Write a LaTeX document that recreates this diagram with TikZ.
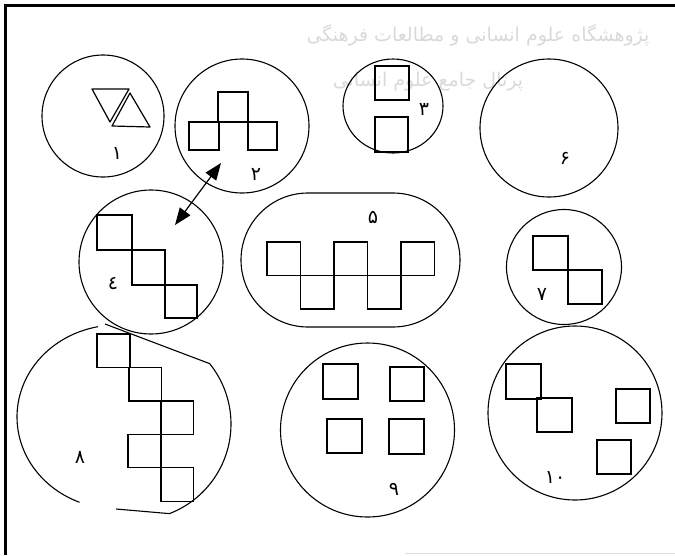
\documentclass[tikz,border=0pt]{standalone}
\usepackage{fontspec}
\usetikzlibrary{arrows.meta,shapes.geometric}
\newfontfamily\arabicfont[Script=Arabic]{DejaVu Sans}
\TeXXeTstate=1
\begin{document}
\begin{tikzpicture}[x=1pt,y=-1pt,
  ln/.style={line width=1.2pt},
  ring/.style={draw,circle,line width=1.1pt,inner sep=0pt},
  oval/.style={draw,ellipse,line width=1.1pt,inner sep=0pt},
  lbl/.style={font=\arabicfont\fontsize{19}{19}\selectfont,inner sep=0pt},
  wm/.style={text=black!15,inner sep=0pt}]
\useasboundingbox (0,0) rectangle (675,555);
% watermark
\node[wm,font=\arabicfont\fontsize{19}{19}\selectfont] (w1) at (478,35) {\beginR پژوهشگاه علوم انسانی و مطالعات فرهنگی\endR};
\node[wm,font=\arabicfont\fontsize{19}{19}\selectfont] (w2) at (428,82) {\beginR پرتال جامع علوم انسانی\endR};
% frame
\draw[line width=3pt] (5.5,555) -- (5.5,5) -- (675,5);
\draw[black!12,line width=0.8pt] (405,553) -- (675,553);
% circle 1
\node[ring,minimum size=122pt] (c1) at (103,116) {};
\draw[ln,line join=round] (92,89) -- (129,89) -- (110,122) -- cycle;
\draw[ln,line join=round] (130,93) -- (150,127) -- (112,126) -- cycle;
\node[lbl] (l1) at (117,153) {۱};
% circle 2
\node[ring,minimum size=134pt] (c2) at (242,126) {};
\draw[ln] (218,92) rectangle ++(30,30);
\draw[ln] (189,122) rectangle ++(30,28);
\draw[ln] (248,122) rectangle ++(29,28);
\node[lbl] (l2) at (256,174) {۲};
% circle 3
\node[oval,minimum width=100pt,minimum height=94pt] (c3) at (393,106) {};
\draw[ln] (375,66) rectangle ++(34,34);
\draw[ln] (375,117) rectangle ++(33,35);
\node[lbl] (l3) at (424,109) {۳};
% circle 6
\node[ring,minimum size=138pt] (c6) at (549,128) {};
\node[lbl] (l6) at (565,158) {۶};
% circle 4
\node[ring,minimum size=144pt] (c4) at (151,262) {};
\draw[ln] (97,215) rectangle ++(35,35);
\draw[ln] (132,250) rectangle ++(33,35);
\draw[ln] (165,285) rectangle ++(32,33);
\node[lbl] (l4) at (113,284) {٤};
% arrow between 2 and 4
\coordinate (a2) at (221,163);
\coordinate (a4) at (175,225);
\draw[line width=1.2pt,{Triangle[length=17pt,width=13pt]}-{Triangle[length=17pt,width=13pt]}] (a2) -- (a4);
% stadium 5
\node[draw,line width=1.1pt,rounded corners=67pt,minimum width=219pt,minimum height=134pt,inner sep=0pt] (c5) at (350.5,260) {};
\foreach \x in {267,334,401} \draw[ln] (\x,242) rectangle ++(33.5,33.5);
\foreach \x in {300.5,367.5} \draw[ln] (\x,275.5) rectangle ++(33.5,33.5);
\node[lbl] (l5) at (373,217) {۵};
% circle 7
\node[ring,minimum size=115pt] (c7) at (564,267) {};
\draw[ln] (533,236) rectangle ++(35,34);
\draw[ln] (568,270) rectangle ++(34,34);
\node[lbl] (l7) at (542,294) {۷};
% shape 8
\draw[line width=1.1pt] plot[domain=112:259,samples=60] ({117+100*cos(\x)},{417+92*sin(\x)});
\draw[line width=1.1pt] (105,324) -- (209.6,363.6) -- plot[domain=-39:69,samples=50] ({135+96*cos(\x)},{424+96*sin(\x)}) -- (116,509);
\draw[ln] (97,334) rectangle ++(33,33.5);
\draw[ln] (129,367.5) rectangle ++(32.5,33.5);
\draw[ln] (161,401) rectangle ++(32.5,33.5);
\draw[ln] (128,434.5) rectangle ++(33,33);
\draw[ln] (161,467.5) rectangle ++(32.5,34);
\node[lbl] (l8) at (80,457) {۸};
% circle 9
\node[ring,minimum size=174pt] (c9) at (367.5,430) {};
\draw[ln] (323,364) rectangle ++(35,35);
\draw[ln] (390,367) rectangle ++(34,34);
\draw[ln] (327,419) rectangle ++(35,34);
\draw[ln] (389,419) rectangle ++(35,35);
\node[lbl] (l9) at (394,489) {۹};
% circle 10
\node[ring,minimum size=174pt] (c10) at (575,413) {};
\draw[ln] (506,364) rectangle ++(35,35);
\draw[ln] (537,398) rectangle ++(35,34);
\draw[ln] (616,389) rectangle ++(34,34);
\draw[ln] (597,440) rectangle ++(34,34);
\node[lbl] (l10) at (555,477) {۱۰};
\end{tikzpicture}
\end{document}
